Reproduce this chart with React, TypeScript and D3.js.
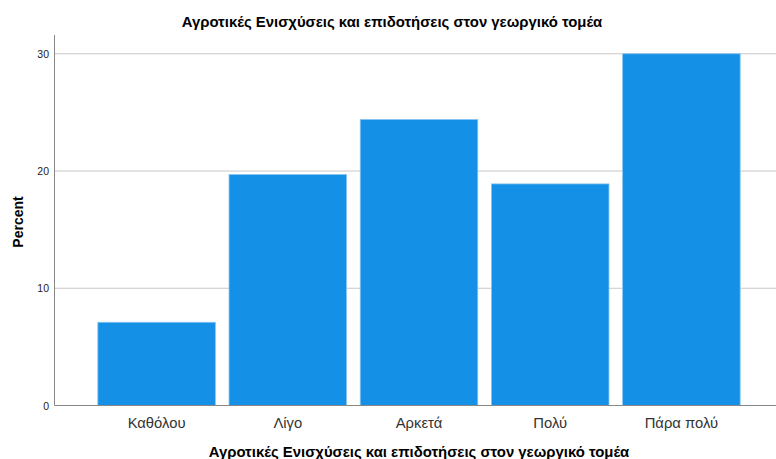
import React from "react";
import * as d3 from "d3";

const categories = ["Καθόλου", "Λίγο", "Αρκετά", "Πολύ", "Πάρα πολύ"];
const percents = [7.1, 19.7, 24.4, 18.9, 30.0];
const yTicks = [0, 10, 20, 30];
const title = "Αγροτικές Ενισχύσεις και επιδοτήσεις στον γεωργικό τομέα";
const xTitle = "Αγροτικές Ενισχύσεις και επιδοτήσεις στον γεωργικό τομέα";
const yTitle = "Percent";

const W = 776;
const H = 459;
const FONT = "'Liberation Sans', Arial, sans-serif";

export default function App() {
  const axisLeft = 54.5;
  const axisBottom = 405.5;
  const y = d3.scaleLinear().domain([0, 31.6]).range([axisBottom, 35]);
  const x = d3
    .scaleBand<string>()
    .domain(categories)
    .range([91, 747])
    .paddingInner(0.104)
    .paddingOuter(0.052);

  return (
    <svg
      width={W}
      height={H}
      style={{ position: "absolute", left: 0, top: 0, background: "#fff" }}
      fontFamily={FONT}
    >
      <rect x={0} y={0} width={W} height={H} fill="#fff" />
      <text x={392} y={27} textAnchor="middle" fontSize={14.9} fontWeight="bold" fill="#000">
        {title}
      </text>
      {yTicks.map((t) => (
        <g key={t}>
          {t > 0 && (
            <line x1={axisLeft} x2={W} y1={y(t)} y2={y(t)} stroke="#c8c8c8" strokeWidth={1} />
          )}
          <text x={49} y={y(t) + 4} textAnchor="end" fontSize={10.5} fill="#222">
            {t}
          </text>
        </g>
      ))}
      {categories.map((c, i) => (
        <rect
          key={c}
          x={x(c)!}
          y={y(percents[i])}
          width={x.bandwidth()}
          height={axisBottom - y(percents[i])}
          fill="#1490e6"
          stroke="#8cc6f2"
          strokeWidth={0.8}
        />
      ))}
      <line x1={axisLeft} x2={axisLeft} y1={35} y2={axisBottom} stroke="#888" strokeWidth={1} />
      <line x1={axisLeft} x2={W} y1={axisBottom} y2={axisBottom} stroke="#888" strokeWidth={1} />
      {categories.map((c) => (
        <text
          key={c}
          x={x(c)! + x.bandwidth() / 2}
          y={428}
          textAnchor="middle"
          fontSize={14.8}
          fill="#333"
        >
          {c}
        </text>
      ))}
      <text x={419} y={457} textAnchor="middle" fontSize={14.9} fontWeight="bold" fill="#000">
        {xTitle}
      </text>
      <text
        transform={`translate(23, 222) rotate(-90)`}
        textAnchor="middle"
        fontSize={14}
        fontWeight="bold"
        fill="#000"
      >
        {yTitle}
      </text>
    </svg>
  );
}
